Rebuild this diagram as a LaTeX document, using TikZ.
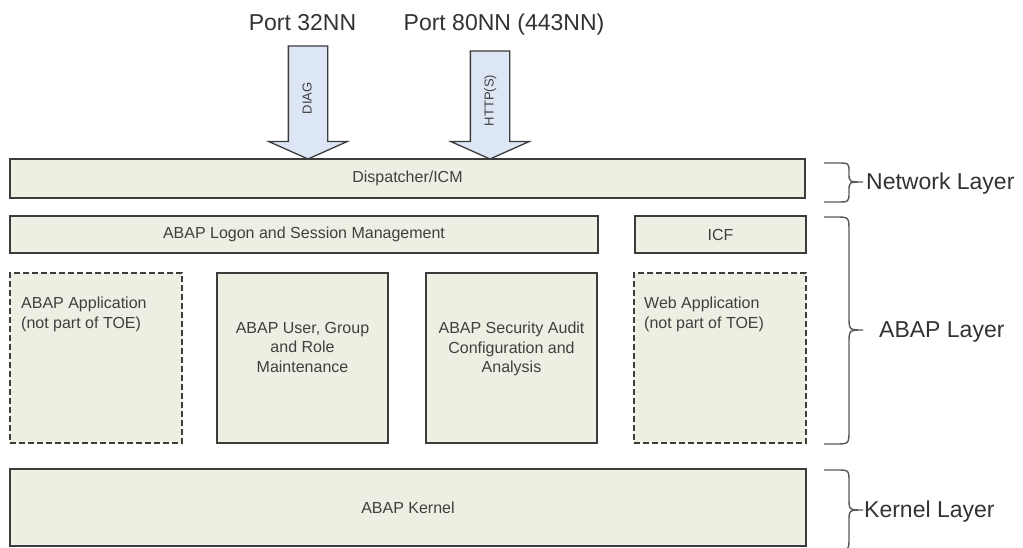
\documentclass[tikz,border=0pt]{standalone}
\usepackage{fontspec}
\setmainfont{Liberation Sans}
\usetikzlibrary{positioning,shapes.arrows}

\definecolor{boxfill}{HTML}{EEEEE2}
\definecolor{boxline}{HTML}{3C3C3C}
\definecolor{arrowfill}{HTML}{DCE6F4}
\definecolor{textgray}{HTML}{404040}

\tikzset{
  layerbox/.style={draw=boxline, fill=boxfill, line width=1.6pt, inner sep=0pt,
    outer sep=0pt, text=textgray, font=\fontsize{16}{19.5}\selectfont},
  outbox/.style={layerbox, dash pattern=on 6pt off 3pt},
  boxtext/.style={text=textgray, font=\fontsize{16}{19.5}\selectfont, inner sep=0pt},
  porttext/.style={text=black!80, font=\fontsize{23}{27}\selectfont, inner sep=0pt, anchor=base},
  portarrow/.style={single arrow, draw=boxline, fill=arrowfill, line width=1.3pt,
    rotate=90, shape border rotate=180, single arrow tip angle=132,
    single arrow head extend=19.5pt, text height=10pt, text depth=3pt,
    inner ysep=12.5pt, inner xsep=0pt, outer sep=0pt, anchor=tip,
    font=\fontsize{13}{15}\selectfont, text=textgray},
  layertext/.style={text=black!80, font=\fontsize{23}{27}\selectfont, inner sep=0pt, anchor=west},
  bracket/.style={draw=boxline!85, line width=1.4pt},
}

\begin{document}
\begin{tikzpicture}[x=1pt,y=-1pt]
  \useasboundingbox[fill=white] (0,0) rectangle (1023,548);

  % ports and incoming traffic
  \node[porttext] (p32) at (302.5,31) {Port 32NN};
  \node[porttext] (p80) at (504,31) {Port 80NN (443NN)};
  \node[portarrow, minimum height=113pt] (diag) at (308,159) {DIAG};
  \node[portarrow, minimum height=108pt] (http) at (490,159) {HTTP(S)};

  % network layer
  \node[layerbox, minimum width=795pt, minimum height=39pt] (disp) at (407.5,178.5) {Dispatcher/ICM};

  % abap layer
  \node[layerbox, minimum width=588pt, minimum height=37pt] (logon) at (304,234.5) {ABAP Logon and Session Management};
  \node[layerbox, minimum width=171pt, minimum height=37pt] (icf) at (720.5,234.5) {ICF};

  \node[outbox, minimum width=172pt, minimum height=170pt] (app) at (96,358) {};
  \node[layerbox, minimum width=171pt, minimum height=170pt] (user) at (302.5,358) {};
  \node[layerbox, minimum width=171pt, minimum height=170pt] (audit) at (511.5,358) {};
  \node[outbox, minimum width=172pt, minimum height=170pt] (webapp) at (720,358) {};

  \node[boxtext, align=left, below right=24pt and 11pt of app.north west] (apptext) {ABAP Application\\(not part of TOE)};
  \node[boxtext, align=center, below=49pt of user.north] (usertext) {ABAP User, Group\\and Role\\Maintenance};
  \node[boxtext, align=center, below=49pt of audit.north] (audittext) {ABAP Security Audit\\Configuration and\\Analysis};
  \node[boxtext, align=left, below right=24pt and 10pt of webapp.north west] (webtext) {Web Application\\(not part of TOE)};

  % kernel layer
  \node[layerbox, minimum width=796pt, minimum height=77pt] (kernel) at (408,507.5) {ABAP Kernel};

  % braces on the right
  \coordinate (ntip) at (863,182);
  \coordinate (atip) at (863,330);
  \coordinate (ktip) at (863,510);
  \draw[bracket] (824,163) -- (837,163) .. controls (849,163) .. (849,172) -- (849,173)
    .. controls (849,182) .. (ntip) .. controls (849,182) .. (849,191) -- (849,192)
    .. controls (849,202) .. (837,202) -- (824,202);
  \draw[bracket] (824,217) -- (835,217) .. controls (849,217) .. (849,231) -- (849,316)
    .. controls (849,330) .. (atip) .. controls (849,330) .. (849,344) -- (849,430)
    .. controls (849,444) .. (835,444) -- (824,444);
  \draw[bracket] (824,470) -- (836,470) .. controls (849,470) .. (849,482) -- (849,498)
    .. controls (849,510) .. (ktip) .. controls (849,510) .. (849,522) -- (849,538)
    .. controls (849,550) .. (836,550) -- (824,550);

  \node[layertext] (netlayer) at ([xshift=3pt,yshift=-2pt]ntip) {Network Layer};
  \node[layertext] (abaplayer) at ([xshift=16pt,yshift=-2pt]atip) {ABAP Layer};
  \node[layertext] (kernlayer) at ([xshift=1pt,yshift=-2pt]ktip) {Kernel Layer};
\end{tikzpicture}
\end{document}
